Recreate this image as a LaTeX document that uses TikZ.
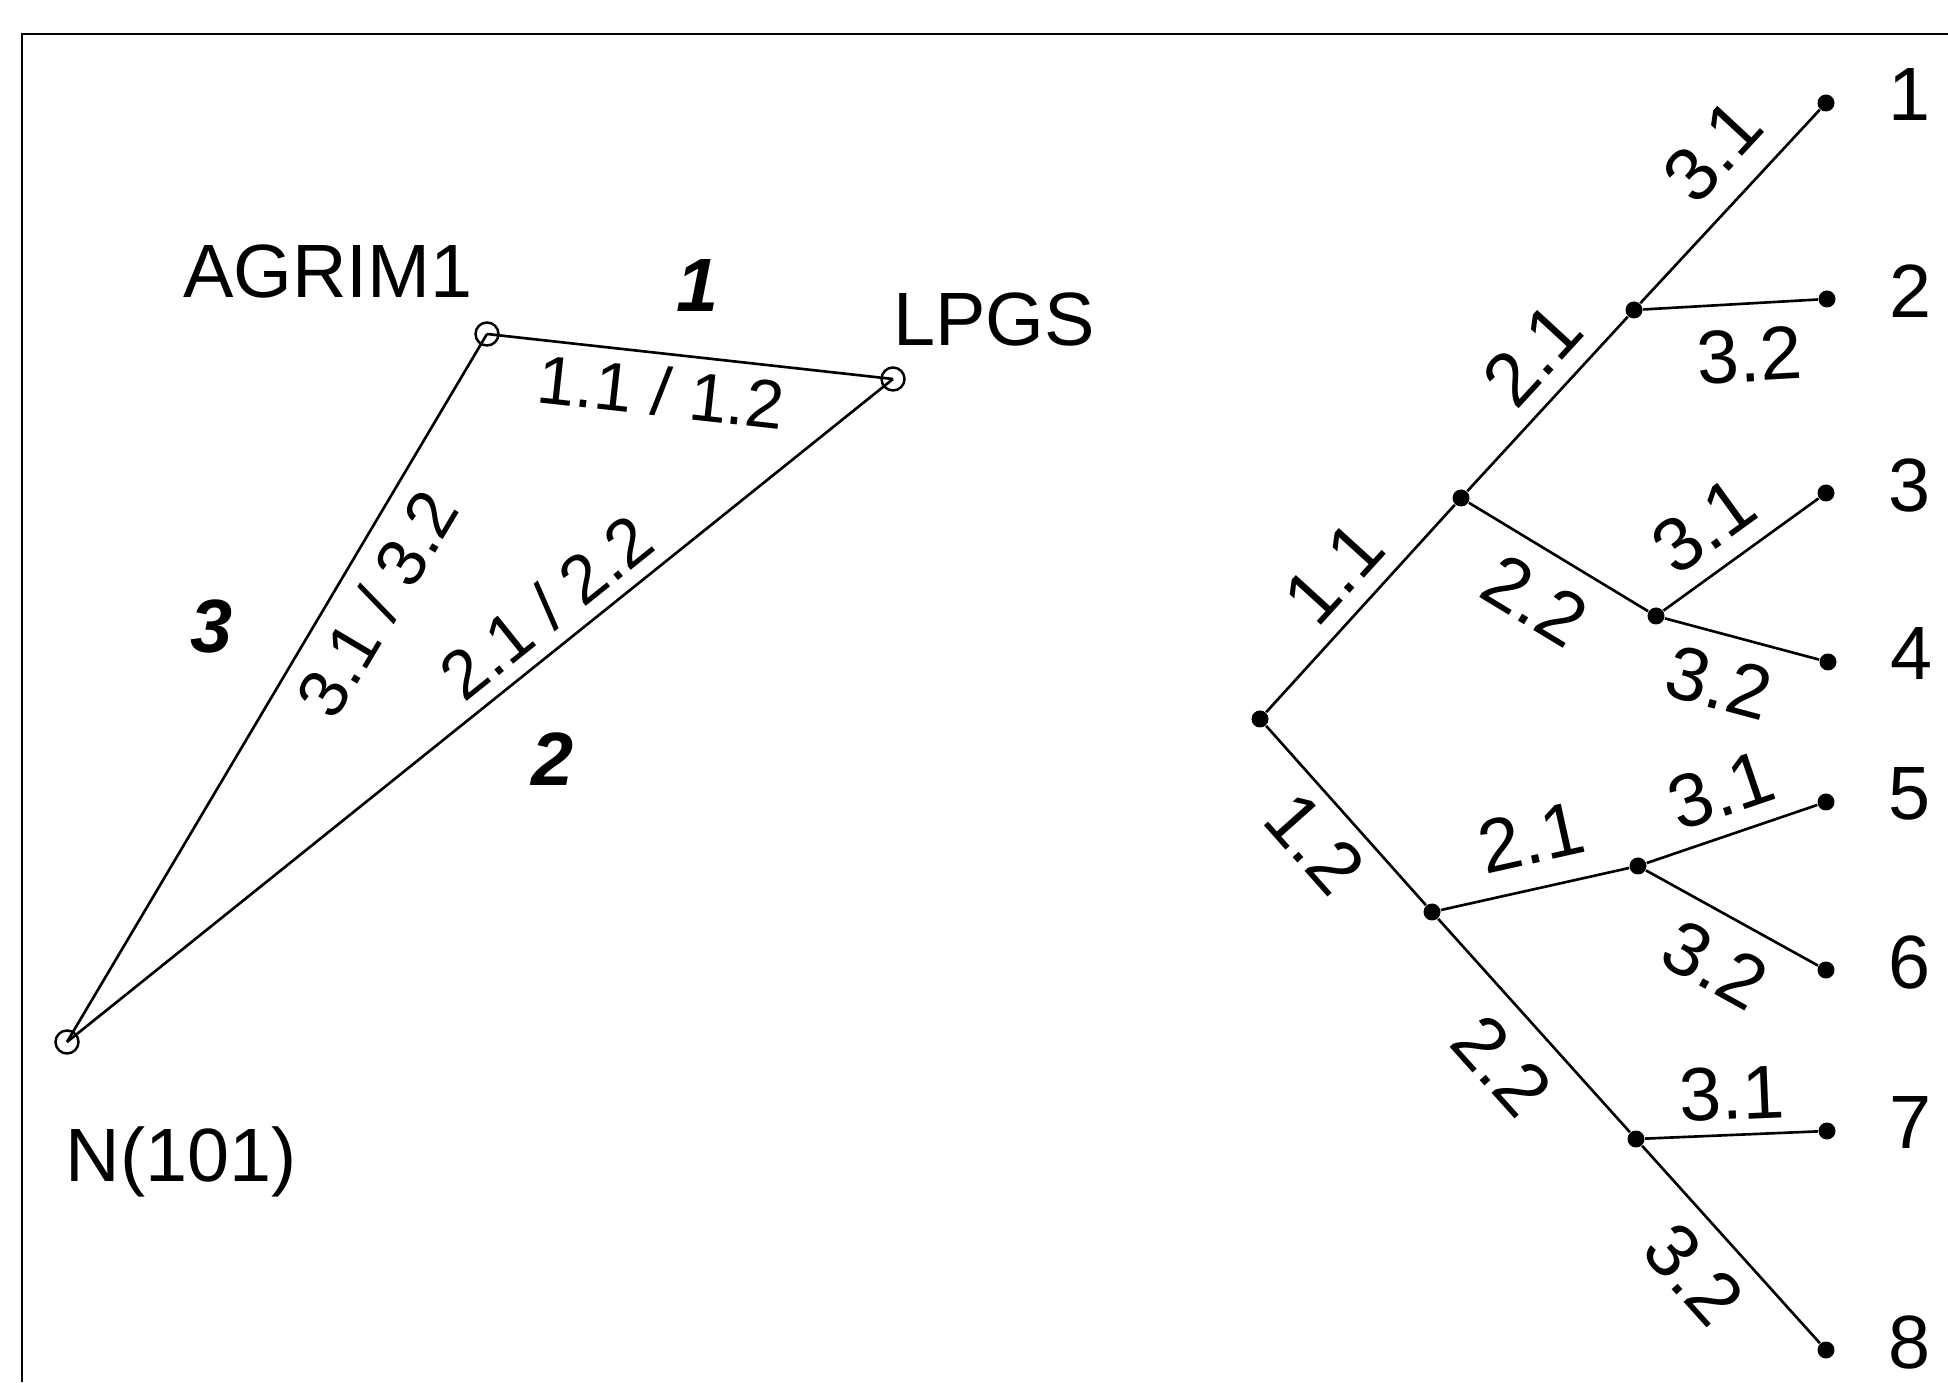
\documentclass[tikz,border=0pt]{standalone}
\usepackage{fontspec}
\setmainfont{Liberation Sans}
\usetikzlibrary{positioning}

\begin{document}
\begin{tikzpicture}[
  txt/.style={font=\fontsize{21.5}{26}\selectfont, inner sep=0pt},
  obs/.style={txt, font=\fontsize{21.5}{26}\selectfont\bfseries\itshape},
  lbl/.style={txt, sloped},
  pair/.style={lbl, font=\fontsize{19.5}{24}\selectfont},
  stn/.style={circle, draw, line width=0.7pt, minimum size=2.3mm, inner sep=0pt},
  knot/.style={circle, fill, minimum size=1.7mm, inner sep=0pt},
  leg/.style={line width=0.75pt},
  leafnum/.style={txt, right=0.53cm of #1, yshift=0.08cm}
]
  \useasboundingbox (0,0) rectangle (19.48,13.82);
  % frame
  \draw[line width=0.7pt] (0.22,0) -- (0.22,13.48) -- (19.48,13.48);

  % stations and observed sides
  \node[stn] (agrim) at (4.87,10.48) {};
  \node[stn] (lpgs) at (8.93,10.03) {};
  \node[stn] (nstn) at (0.67,3.40) {};
  \node[txt] (agrimlbl) at (3.28,11.11) {AGRIM1};
  \node[txt] (lpgslbl) at (9.94,10.63) {LPGS};
  \node[txt, anchor=base] (nlbl) at (1.81,2.01) {N(101)};
  \node[obs] (obs1) at (6.98,10.96) {1};
  \node[obs] (obs2) at (5.53,6.23) {2};
  \node[obs] (obs3) at (2.12,7.56) {3};

  \draw[leg] (agrim.center) -- node[pair, pos=0.44, below=3.3pt] {1.1 / 1.2} (lpgs.center);
  \draw[leg] (nstn.center) -- node[pair, pos=0.61, above=3.7pt] {2.1 / 2.2} (lpgs.center);
  \draw[leg] (nstn.center) -- node[pair, pos=0.65, below=4.7pt] {3.1 / 3.2} (agrim.center);

  % combination tree
  \node[knot] (rt) at (12.60,6.63) {};
  \node[knot] (a) at (14.61,8.84) {};
  \node[knot] (b) at (16.34,10.72) {};
  \node[knot] (c) at (16.56,7.66) {};
  \node[knot] (d) at (14.32,4.70) {};
  \node[knot] (e) at (16.38,5.16) {};
  \node[knot] (f) at (16.36,2.43) {};
  \node[knot] (l1) at (18.26,12.79) {};
  \node[knot] (l2) at (18.27,10.83) {};
  \node[knot] (l3) at (18.26,8.89) {};
  \node[knot] (l4) at (18.28,7.20) {};
  \node[knot] (l5) at (18.26,5.80) {};
  \node[knot] (l6) at (18.26,4.12) {};
  \node[knot] (l7) at (18.27,2.51) {};
  \node[knot] (l8) at (18.26,0.32) {};
  \foreach \i in {1,...,8}
    \node[leafnum=l\i] (n\i) {\i};

  \draw[leg] (rt) -- node[lbl, pos=0.53, above=4.7pt] {1.1} (a);
  \draw[leg] (a) -- node[lbl, pos=0.61, above=4.8pt] {2.1} (b);
  \draw[leg] (b) -- node[lbl, pos=0.61, above=6.4pt] {3.1} (l1);
  \draw[leg] (b) -- node[lbl, pos=0.59, below=6.8pt] {3.2} (l2);
  \draw[leg] (a) -- node[lbl, pos=0.51, below=6.2pt] {2.2} (c);
  \draw[leg] (c) -- node[lbl, pos=0.43, above=4.8pt] {3.1} (l3);
  \draw[leg] (c) -- node[lbl, pos=0.43, below=5.8pt] {3.2} (l4);
  \draw[leg] (rt) -- node[lbl, pos=0.50, below=3.9pt] {1.2} (d);
  \draw[leg] (d) -- node[lbl, pos=0.54, above=6.8pt] {2.1} (e);
  \draw[leg] (e) -- node[lbl, pos=0.52, above=4.8pt] {3.1} (l5);
  \draw[leg] (e) -- node[lbl, pos=0.54, below=6pt] {3.2} (l6);
  \draw[leg] (d) -- node[lbl, pos=0.53, below=6.4pt] {2.2} (f);
  \draw[leg] (f) -- node[lbl, pos=0.51, above=3.8pt] {3.1} (l7);
  \draw[leg] (f) -- node[lbl, pos=0.49, below=5.6pt] {3.2} (l8);
\end{tikzpicture}
\end{document}
